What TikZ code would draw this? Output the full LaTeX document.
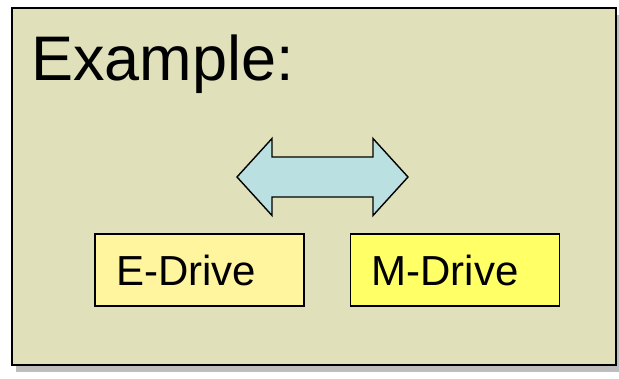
\documentclass[tikz,border=0pt]{standalone}
\usepackage{fontspec}
\setmainfont{Liberation Sans}
\usepackage{xcolor}
\usetikzlibrary{shadows}
\definecolor{panelbg}{RGB}{224,224,186}
\definecolor{arrowbg}{RGB}{186,224,226}
\definecolor{edrivebg}{RGB}{255,245,158}
\definecolor{mdrivebg}{RGB}{255,255,102}
\definecolor{shadowgray}{RGB}{190,190,190}

\begin{document}
\begin{tikzpicture}[
  x=1pt, y=-1pt,
  panel/.style={rectangle, draw=black, line width=1.8pt, fill=panelbg,
                drop shadow={shadow xshift=4pt, shadow yshift=-7pt, fill=shadowgray, opacity=1}},
  drivebox/.style={rectangle, draw=black, line width=1.4pt, fill=#1,
                   minimum width=209pt, minimum height=72pt, inner xsep=21pt,
                   text width=167pt, align=left, font=\fontsize{42}{48}\selectfont},
  dblarrow/.style={draw=black, line width=1.4pt, fill=arrowbg, line join=miter}]
  \useasboundingbox (0,0) rectangle (619,378);
  \node[panel, minimum width=604pt, minimum height=357pt, anchor=north west] (panel) at (11,7) {};
  \node[anchor=base west, inner sep=0pt, font=\fontsize{63}{72}\selectfont] (title) at (31,80) {Example:};
  \node[drivebox=edrivebg] (edrive) at (199.5,270) {E-Drive};
  \node[drivebox=mdrivebg] (mdrive) at (455,270) {M-Drive};
  % double-headed arrow between the two drives
  \coordinate (ltip) at (237,177);
  \coordinate (rtip) at (408,177);
  \draw[dblarrow] (ltip) -- ++(35,-38.5) -- ++(0,18.5) -- ++(101,0) -- ++(0,-18.5)
    -- (rtip) -- ++(-35,38.5) -- ++(0,-18.5) -- ++(-101,0) -- ++(0,18.5) -- cycle;
\end{tikzpicture}
\end{document}
